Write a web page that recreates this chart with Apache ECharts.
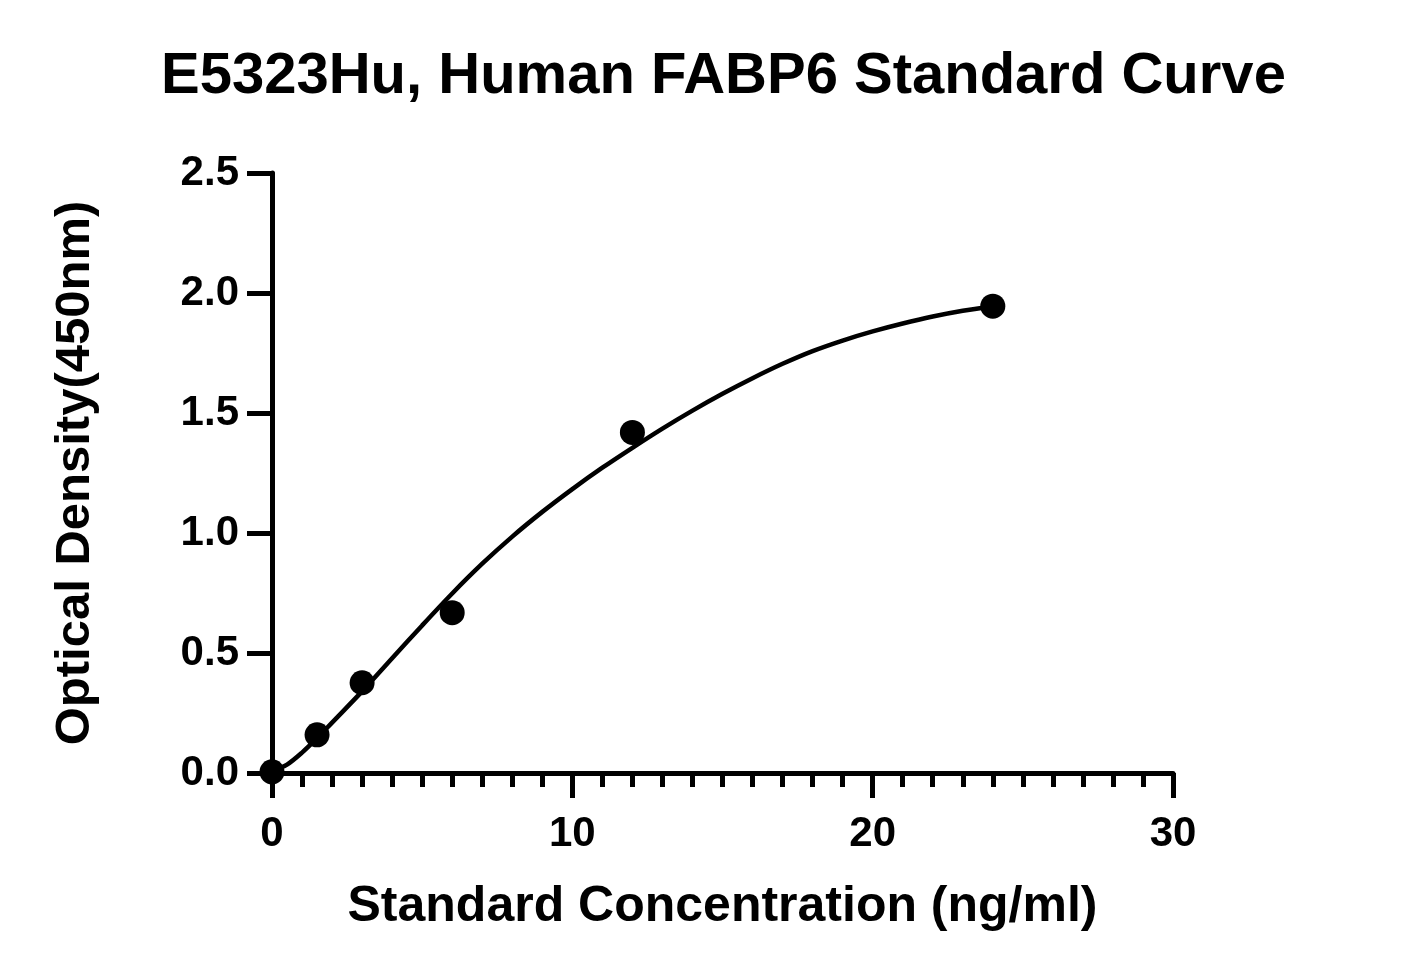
<!DOCTYPE html>
<html>
<head>
<meta charset="utf-8">
<script src="https://cdn.jsdelivr.net/npm/echarts@6/dist/echarts.min.js"></script>
<style>
html,body{margin:0;padding:0;background:#fff;}
#chart{width:1410px;height:975px;}
</style>
</head>
<body>
<div id="chart"></div>
<script>
// Title and axis names
var chartTitle = 'E5323Hu, Human FABP6 Standard Curve';
var xAxisName = 'Standard Concentration (ng/ml)';
var yAxisName = 'Optical Density(450nm)';

// Measured standards
var standardConc = [0, 1.5, 3, 6, 12, 24];
var standardOD = [0.005, 0.159, 0.376, 0.668, 1.419, 1.945];

// Fitted curve
var curveConc = [0, 0.5, 1, 1.5, 2, 3, 4, 5, 6, 7, 8, 9, 10, 11, 12, 13, 14, 15, 16, 17, 18, 19, 20, 21, 22, 23, 24];
var curveOD = [0.008, 0.035, 0.085, 0.145, 0.21, 0.34, 0.478, 0.615, 0.748, 0.872, 0.985, 1.088, 1.183, 1.272, 1.355, 1.435, 1.51, 1.58, 1.645, 1.705, 1.758, 1.802, 1.84, 1.873, 1.902, 1.926, 1.945];

var FONT = 'Arial, "Liberation Sans", sans-serif';

function pairs(xs, ys) {
  return xs.map(function (x, i) { return [x, ys[i]]; });
}

var chart = echarts.init(document.getElementById('chart'));
chart.setOption({
  backgroundColor: '#ffffff',
  animation: false,
  title: {
    text: chartTitle,
    left: 161,
    top: 48,
    padding: 0,
    textStyle: { fontFamily: FONT, fontWeight: 'bold', fontSize: 58, color: '#000' }
  },
  grid: { left: 272, right: 237, top: 173, bottom: 202, containLabel: false },
  xAxis: {
    type: 'value',
    min: 0, max: 30, interval: 10,
    name: xAxisName,
    nameLocation: 'middle',
    nameGap: 109,
    nameTextStyle: { fontFamily: FONT, fontWeight: 'bold', fontSize: 50, color: '#000' },
    axisLine: { show: true, onZero: false, lineStyle: { color: '#000', width: 5 } },
    axisTick: { show: true, length: 25, lineStyle: { color: '#000', width: 5 } },
    minorTick: { show: true, splitNumber: 10, length: 14, lineStyle: { color: '#000', width: 5 } },
    axisLabel: { fontFamily: FONT, fontWeight: 'bold', fontSize: 42, color: '#000', margin: 40 },
    splitLine: { show: false }
  },
  yAxis: {
    type: 'value',
    min: 0, max: 2.5, interval: 0.5,
    name: yAxisName,
    nameLocation: 'middle',
    nameGap: 172,
    nameTextStyle: { fontFamily: FONT, fontWeight: 'bold', fontSize: 49, color: '#000' },
    axisLine: { show: true, onZero: false, lineStyle: { color: '#000', width: 5 } },
    axisTick: { show: true, length: 25, lineStyle: { color: '#000', width: 5 } },
    axisLabel: {
      fontFamily: FONT, fontWeight: 'bold', fontSize: 42, color: '#000', margin: 33,
      formatter: function (v) { return v.toFixed(1); }
    },
    splitLine: { show: false }
  },
  series: [
    {
      type: 'line',
      data: pairs(curveConc, curveOD),
      smooth: 0.3,
      showSymbol: false,
      symbol: 'none',
      lineStyle: { color: '#000', width: 4.5 },
      z: 2
    },
    {
      type: 'scatter',
      data: pairs(standardConc, standardOD),
      symbol: 'circle',
      symbolSize: 25,
      itemStyle: { color: '#000', opacity: 1 },
      z: 3
    }
  ]
});
</script>
</body>
</html>
